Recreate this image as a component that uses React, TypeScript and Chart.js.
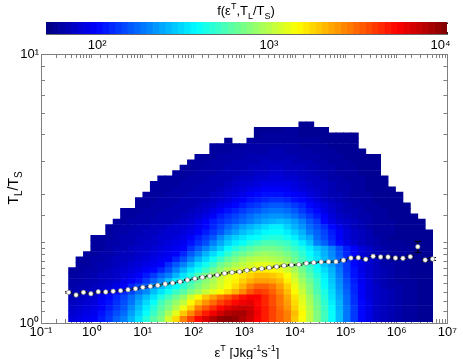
import React, { useEffect, useRef } from "react";
import { Chart, registerables } from "chart.js";

Chart.register(...registerables);

// Bin edges of epsilon^T; the conditional means sit on these edges.
const epsilonBins = [
  0.35, 0.49, 0.686, 0.96, 1.34, 1.88, 2.63, 3.69, 5.16, 7.24,
  10.1, 14.2, 19.9, 27.8, 39, 54.6, 76.4, 107, 150, 210,
  294, 411, 576, 807, 1130, 1580, 2210, 3100, 4340, 6080,
  8510, 11900, 16700, 23400, 32700, 45800, 64100, 89900, 126000, 176000,
  247000, 345000, 484000, 678000, 948000, 1330000, 1860000, 2610000, 3650000, 5100000,
];

// Bin edges of T_L/T_S, bottom to top.
const ratioBins = [
  1.011, 1.059, 1.109, 1.162, 1.217, 1.274, 1.335, 1.398, 1.464, 1.533,
  1.606, 1.681, 1.761, 1.844, 1.931, 2.023, 2.118, 2.218, 2.323, 2.433,
  2.548, 2.669, 2.795, 2.927, 3.065, 3.21, 3.363, 3.523, 3.689, 3.864,
  4.046, 4.236, 4.437, 4.647, 4.867, 5.098, 5.339, 5.592,
];

// First filled epsilon bin in each T_L/T_S row.
const rowStart = [
  0, 0, 0, 0, 0, 0, 0, 0, 0, 0, 1, 1, 2, 3, 3, 3, 5, 5, 6, 7,
  7, 9, 9, 10, 11, 11, 12, 14, 15, 16, 17, 19, 19, 21, 25, 25, 31,
];

// Position of each cell on the colour bar, in percent, read row by row from the bottom.
const heatRows = [
  [9,10,11,12,15,18,22,25,30,35,41,46,50,58,66,75,81,87,91,95,98,99,98,95,92,88,85,81,78,75,68,62,56,50,44,38,31,24,18,13,10,7,6,5,4,3,3,2,2],
  [8,9,10,11,14,17,20,23,28,33,38,43,48,54,60,68,74,80,85,89,92,95,96,96,93,89,85,81,78,75,69,63,56,50,44,38,31,24,18,13,10,7,6,5,4,3,3,2,2],
  [7,8,9,10,12,15,18,21,26,31,36,41,46,50,55,61,67,75,79,83,87,90,92,93,92,88,85,81,77,73,67,61,55,49,43,37,30,24,18,13,10,7,6,5,4,3,3,2,2],
  [6,7,8,9,12,14,17,20,24,29,34,38,44,48,52,56,63,68,73,77,81,84,87,89,90,87,84,80,76,72,66,60,54,48,42,36,30,23,17,13,10,7,6,5,4,3,3,2,2],
  [5,6,7,8,11,13,16,19,23,27,31,35,40,44,48,52,58,63,68,72,76,79,83,86,88,88,84,80,76,71,65,59,53,47,41,35,29,23,17,12,9,7,6,5,4,3,3,2,2],
  [5,5,6,7,8,11,13,16,19,23,26,31,35,39,43,46,50,53,57,60,63,66,70,74,79,82,81,78,74,69,63,57,51,45,40,34,28,22,16,12,9,7,6,5,4,3,3,2,2],
  [4,5,5,6,7,8,10,12,16,19,22,27,31,35,38,42,46,50,53,56,59,62,66,70,75,78,78,76,72,67,61,55,50,44,38,33,27,21,16,12,9,7,5,4,4,3,3,2,2],
  [4,4,5,5,6,7,8,10,12,14,18,22,26,31,36,39,43,47,51,54,58,61,64,67,70,72,72,71,69,64,59,53,48,43,37,32,26,20,15,11,9,6,5,4,3,3,3,2,2],
  [3,4,4,5,6,6,7,9,10,12,15,18,22,25,30,35,40,45,49,53,57,60,63,65,67,69,69,68,66,62,57,51,46,41,36,31,25,19,14,11,8,6,5,4,3,3,2,2,2],
  [3,3,4,4,5,6,7,8,9,10,12,13,16,20,25,30,35,39,43,48,52,55,58,60,62,64,64,63,61,58,54,49,44,39,34,30,24,18,14,10,8,6,5,4,3,3,2,2,2],
  [3,3,4,5,5,6,7,8,9,10,11,12,17,21,25,30,35,39,43,48,51,54,56,58,60,60,59,58,55,51,47,42,37,32,28,23,18,13,10,8,6,4,4,3,3,2,2,2],
  [3,3,4,4,5,6,6,7,8,9,10,11,12,16,20,25,30,34,39,43,47,50,53,55,56,56,55,54,52,48,44,40,35,31,27,22,17,13,10,8,6,4,3,3,3,2,2,2],
  [3,3,4,4,5,6,6,7,8,9,10,11,12,16,21,25,30,34,38,42,46,48,50,52,53,52,51,49,46,42,38,34,30,26,21,16,12,9,7,5,4,3,3,3,2,2,2],
  [3,3,4,5,5,6,7,7,8,9,10,11,12,17,21,25,29,33,38,41,44,46,48,49,49,48,46,43,40,36,32,29,25,20,15,12,9,7,5,4,3,3,3,2,2,2],
  [3,3,4,4,5,5,6,7,7,8,9,10,11,14,17,20,25,29,33,36,38,41,43,45,45,44,43,40,36,32,25,22,17,13,10,8,6,5,4,3,3,3,2,2,2,2],
  [3,3,3,4,5,5,6,6,7,8,8,9,10,12,15,18,21,26,30,33,35,37,38,40,41,41,39,36,32,29,23,20,16,12,9,7,6,5,4,3,2,2,2,2,2,2],
  [3,4,4,5,5,6,6,7,8,8,9,10,12,15,18,21,25,28,31,33,35,37,38,38,36,33,30,25,22,19,15,12,9,7,6,5,3,3,3,2,2,2,2,2],
  [3,3,4,4,5,5,6,6,7,8,8,9,11,13,16,19,22,25,28,30,32,34,36,36,33,30,27,23,20,17,13,10,8,6,5,4,3,3,3,2,2,2,2],
  [3,3,4,4,4,5,5,5,6,7,8,10,12,15,17,19,21,23,25,27,29,30,31,30,28,25,21,18,13,10,8,7,6,5,4,3,3,3,2,2,2,2],
  [3,3,4,4,4,5,5,5,6,7,8,10,12,15,17,19,21,23,25,26,27,27,26,24,21,18,15,12,9,7,6,5,4,4,3,3,2,2,2,2],
  [3,3,3,4,4,4,5,5,5,6,7,8,10,12,14,16,18,20,21,23,24,24,23,21,18,15,13,10,8,6,5,5,4,3,3,3,2,2,2],
  [3,3,4,4,4,5,5,5,6,7,8,10,11,13,15,17,18,20,21,21,20,18,16,13,11,9,7,6,5,4,4,3,3,2,2,2,2],
  [3,3,3,4,4,4,5,5,5,6,7,8,9,11,12,14,15,16,17,17,16,14,13,11,9,7,6,5,4,4,3,3,2,2,2,2],
  [3,3,3,4,4,4,5,5,5,6,7,8,9,10,12,13,14,14,14,13,12,11,9,8,6,5,5,4,3,3,3,2,2,2,2],
  [3,3,3,4,4,4,5,5,5,6,7,8,9,10,11,12,12,12,11,10,9,8,7,6,5,4,4,3,3,2,2,2,2],
  [3,3,3,3,4,4,4,5,5,5,6,7,8,8,9,10,10,10,10,9,8,7,6,6,5,4,4,3,3,2,2,2],
  [3,3,3,3,4,4,4,5,5,5,6,7,7,8,8,9,9,8,8,7,6,6,5,4,4,3,3,3,2,2,2],
  [3,3,3,4,4,4,5,5,5,6,6,7,7,8,8,7,7,6,6,5,5,4,3,3,3,2,2,2],
  [3,3,3,4,4,4,5,5,5,6,6,6,7,7,6,6,6,5,5,4,4,3,3,3,2,2,2],
  [3,3,3,4,4,4,5,5,5,5,6,6,6,6,5,5,5,4,4,3,3,3,2,2,2,2],
  [3,3,3,4,4,4,4,5,5,5,5,5,5,5,4,4,4,3,3,3,2,2,2,2,2],
  [3,3,3,4,4,4,4,4,5,5,4,4,4,4,3,3,3,2,2,2,2],
  [3,3,3,3,3,4,4,4,4,4,4,4,3,3,3,3,2,2,2,2],
  [2,0,0,3,3,3,3,3,3,3,3,3,3,2,2,2,2,2],
  [2,3,3,3,3,3,2,2,2,2,2,2,2,2],
  [2,2,2,2,3,3,2,2,2,2],
  [2,2],
];

// Conditional mean of T_L/T_S in each epsilon bin, and its error-bar half height.
const meanRatio = [
  1.3, 1.271, 1.3, 1.285, 1.307, 1.304, 1.312, 1.319, 1.33, 1.341,
  1.357, 1.369, 1.381, 1.396, 1.408, 1.424, 1.445, 1.461, 1.479, 1.495,
  1.508, 1.53, 1.543, 1.551, 1.57, 1.583, 1.592, 1.605, 1.619, 1.633,
  1.643, 1.647, 1.667, 1.676, 1.686, 1.69, 1.69, 1.711, 1.744, 1.749,
  1.725, 1.77, 1.759, 1.759, 1.744, 1.74, 1.764, 1.921, 1.715, 1.73,
];
const meanError = [
  0.008, 0.008, 0.008, 0.008, 0.008, 0.008, 0.008, 0.008, 0.008, 0.008,
  0.008, 0.008, 0.008, 0.008, 0.008, 0.008, 0.008, 0.008, 0.008, 0.008,
  0.008, 0.008, 0.008, 0.008, 0.008, 0.008, 0.008, 0.008, 0.008, 0.008,
  0.008, 0.008, 0.008, 0.008, 0.008, 0.008, 0.01, 0.01, 0.01, 0.01,
  0.012, 0.012, 0.012, 0.012, 0.014, 0.014, 0.016, 0.09, 0.022, 0.022,
];

const xAxisRange = [0.1, 1e7];
const yAxisRange = [1, 10];
const colorRange = [50.3, 10890];
const colorSteps = 64;

const FONT = '"Liberation Sans", Arial, sans-serif';
const AXIS_GREY = "#7f7f7f";
const EXP: Record<string, string> = { "-": "\u207B", "0": "\u2070", "1": "\u00B9", "2": "\u00B2", "3": "\u00B3", "4": "\u2074", "5": "\u2075", "6": "\u2076", "7": "\u2077" };

function powerLabel(value: number): string {
  const e = Math.log10(value);
  if (Math.abs(e - Math.round(e)) > 1e-6) return "";
  return "10" + String(Math.round(e)).split("").map((c) => EXP[c]).join("");
}

function jet(t: number): string {
  const q = Math.max(0, Math.min(1, t));
  const ch = (c: number) => Math.round(255 * Math.max(0, Math.min(1, 1.5 - Math.abs(4 * q - c))));
  return `rgb(${ch(3)},${ch(2)},${ch(1)})`;
}

type Part = [string, "sup" | "sub" | ""];

function drawRich(ctx: CanvasRenderingContext2D, parts: Part[], cx: number, cy: number, size: number, rotate = 0) {
  ctx.save();
  ctx.translate(cx, cy);
  ctx.rotate(rotate);
  ctx.fillStyle = "#000";
  ctx.textBaseline = "alphabetic";
  ctx.textAlign = "left";
  const fontOf = (p: Part) => `${p[1] ? Math.round(size * 0.72) : size}px ${FONT}`;
  let width = 0;
  for (const p of parts) {
    ctx.font = fontOf(p);
    width += ctx.measureText(p[0]).width;
  }
  let x = -width / 2;
  for (const p of parts) {
    ctx.font = fontOf(p);
    const dy = p[1] === "sup" ? -size * 0.45 : p[1] === "sub" ? size * 0.3 : 0;
    ctx.fillText(p[0], x, size * 0.36 + dy);
    x += ctx.measureText(p[0]).width;
  }
  ctx.restore();
}

const boxAxis = (range: number[], position: string, size: number | null) => ({
  type: "logarithmic",
  position,
  min: range[0],
  max: range[1],
  offset: false,
  afterFit: (s: any) => {
    if (s.isHorizontal()) s.height = size ?? 0;
    else s.width = size ?? 0;
  },
  border: { color: AXIS_GREY, width: 1 },
  grid: { drawOnChartArea: false, offset: false, color: AXIS_GREY, tickLength: -4, tickColor: AXIS_GREY },
  ticks: {
    display: size !== null,
    autoSkip: false,
    maxRotation: 0,
    minRotation: 0,
    color: "#000",
    font: { family: FONT, size: 13 },
    padding: 6,
    callback: (v: number) => powerLabel(Number(v)),
  },
});

export default function App() {
  const mainRef = useRef<HTMLCanvasElement>(null);
  const barRef = useRef<HTMLCanvasElement>(null);

  useEffect(() => {
    const heatDatasets: any[] = heatRows.map((row, r) => {
      const cells = row
        .map((level, i) => ({ level, c: rowStart[r] + i }))
        .filter((cell) => cell.level > 0);
      return {
        type: "bar",
        order: 3,
        grouped: false,
        barThickness: 7.6,
        borderWidth: 0,
        data: cells.map((cell) => ({
          x: Math.sqrt(epsilonBins[cell.c] * epsilonBins[cell.c + 1]),
          y: [ratioBins[r], ratioBins[r + 1]],
        })),
        backgroundColor: cells.map((cell) => jet(cell.level / 100)),
      };
    });

    const errorPoints: any[] = [];
    epsilonBins.forEach((x, i) => {
      errorPoints.push({ x, y: meanRatio[i] - meanError[i] }, { x, y: meanRatio[i] + meanError[i] }, { x, y: null });
    });

    const main = new Chart(mainRef.current!, {
      type: "bar",
      data: {
        datasets: [
          ...heatDatasets,
          {
            type: "scatter",
            order: 2,
            data: errorPoints,
            showLine: true,
            spanGaps: false,
            borderColor: "#000",
            borderWidth: 1,
            pointStyle: "line",
            pointRadius: 3.5,
            pointBorderColor: "#000",
            pointBorderWidth: 1,
          },
          {
            type: "scatter",
            order: 1,
            data: epsilonBins.map((x, i) => ({ x, y: meanRatio[i] })),
            showLine: false,
            pointStyle: "circle",
            pointRadius: 2.2,
            pointBackgroundColor: "#fff",
            pointBorderColor: "#8a8a8a",
            pointBorderWidth: 0.7,
          },
        ] as any,
      },
      options: {
        animation: false,
        responsive: false,
        layout: { padding: { top: 54, right: 10, left: 0, bottom: 0 } },
        plugins: { legend: { display: false }, tooltip: { enabled: false } },
        scales: {
          x: boxAxis(xAxisRange, "bottom", 36),
          y: boxAxis(yAxisRange, "left", 41),
          x2: boxAxis(xAxisRange, "top", null),
          y2: boxAxis(yAxisRange, "right", null),
        } as any,
      },
      plugins: [
        {
          id: "titles",
          afterDraw(chart: any) {
            const ctx = chart.ctx;
            drawRich(ctx, [["\u03B5", ""], ["T", "sup"], [" [Jkg", ""], ["-1", "sup"], ["s", ""], ["-1", "sup"], ["]", ""]], 247, 352, 13);
            drawRich(ctx, [["T", ""], ["L", "sub"], ["/T", ""], ["S", "sub"]], 13, 188, 14, -Math.PI / 2);
            drawRich(ctx, [["f(\u03B5", ""], ["T", "sup"], [",T", ""], ["L", "sub"], ["/T", ""], ["S", "sub"], [")", ""]], 246, 10, 13);
          },
        },
      ],
    } as any);

    const logMin = Math.log10(colorRange[0]);
    const logMax = Math.log10(colorRange[1]);
    const edge = (i: number) => Math.pow(10, logMin + ((logMax - logMin) * i) / colorSteps);
    const swatches = Array.from({ length: colorSteps }, (_, i) => ({
      label: "f",
      grouped: false,
      barPercentage: 1,
      categoryPercentage: 1,
      borderWidth: 0,
      data: [[edge(i), edge(i + 1)]],
      backgroundColor: jet((i + 0.5) / colorSteps),
    }));

    const barAxis = (position: string, labelled: boolean) => ({
      type: "logarithmic",
      position,
      min: colorRange[0],
      max: colorRange[1],
      afterFit: (s: any) => {
        s.height = labelled ? 21 : 0;
      },
      border: { color: labelled ? "#6a6a6a" : "#9a9ac8", width: 1 },
      grid: { drawOnChartArea: false, color: "#222", tickColor: "#222", tickLength: -2 },
      ticks: {
        display: labelled,
        autoSkip: false,
        maxRotation: 0,
        minRotation: 0,
        color: "#000",
        font: { family: FONT, size: 13 },
        padding: 6,
        callback: (v: number) => powerLabel(Number(v)),
      },
    });

    const bar = new Chart(barRef.current!, {
      type: "bar",
      data: { labels: ["f"], datasets: swatches as any },
      options: {
        indexAxis: "y",
        animation: false,
        responsive: false,
        layout: { padding: { top: 22, left: 46, right: 16, bottom: 0 } },
        plugins: { legend: { display: false }, tooltip: { enabled: false } },
        scales: {
          x: barAxis("bottom", true),
          x2: barAxis("top", false),
          y: { display: false, grid: { display: false }, afterFit: (s: any) => { s.width = 0; } },
        } as any,
      },
    } as any);

    return () => {
      main.destroy();
      bar.destroy();
    };
  }, []);

  return (
    <div style={{ position: "fixed", left: 0, top: 0, width: 463, height: 359, background: "#fff", overflow: "hidden" }}>
      <canvas ref={mainRef} width={463} height={359} style={{ position: "absolute", left: 0, top: 0, width: 463, height: 359 }} />
      <canvas ref={barRef} width={463} height={55} style={{ position: "absolute", left: 0, top: 0, width: 463, height: 55 }} />
    </div>
  );
}
